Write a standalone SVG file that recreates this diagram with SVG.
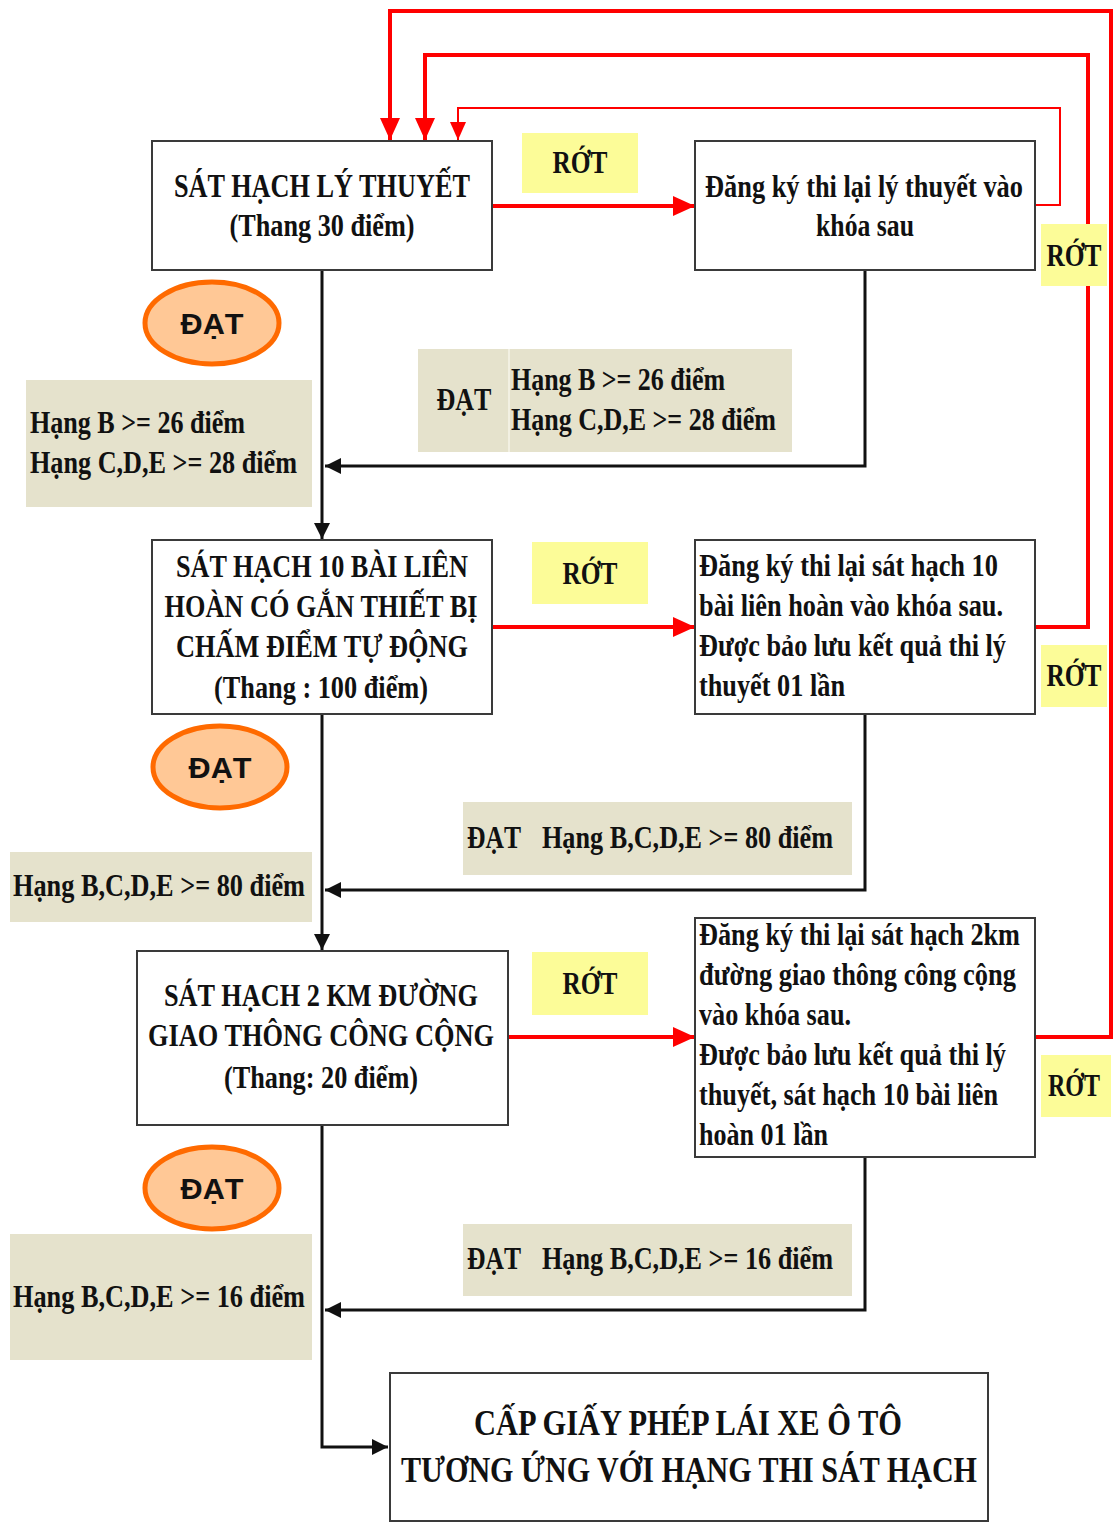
<svg xmlns="http://www.w3.org/2000/svg" width="1113" height="1522" viewBox="0 0 1113 1522">
<style>
.box{fill:#fff;stroke:#3a3a3a;stroke-width:2}
.tan{fill:#E5E2CC}
.yel{fill:#FCFC98}
.ell{fill:#FFC896;stroke:#FF6A00;stroke-width:5}
.t{font-family:"Liberation Serif","Times New Roman",serif;font-weight:bold;fill:#111}
.c{text-anchor:middle}
.s{font-family:"Liberation Sans",Arial,sans-serif;font-weight:bold;fill:#111;text-anchor:middle}
.blk{stroke:#111;stroke-width:3;fill:none}
.red{stroke:#FF0000;stroke-width:4;fill:none}
.redt{stroke:#FF0000;stroke-width:2;fill:none}
</style>
<defs>
<marker id="ab" markerUnits="userSpaceOnUse" markerWidth="18" markerHeight="16" refX="16" refY="8" orient="auto"><path d="M0,0 L16,8 L0,16 z" fill="#111"/></marker>
<marker id="ar" markerUnits="userSpaceOnUse" markerWidth="24" markerHeight="20" refX="22" refY="10" orient="auto"><path d="M0,0 L22,10 L0,20 z" fill="#FF0000"/></marker>
<marker id="ars" markerUnits="userSpaceOnUse" markerWidth="20" markerHeight="16" refX="18" refY="8" orient="auto"><path d="M0,0 L18,8 L0,16 z" fill="#FF0000"/></marker>
</defs>

<g id="connectors">
<polyline class="red" points="1111,1037 1111,11 390,11 390,140" marker-end="url(#ar)"/>
<polyline class="red" points="1035,627 1088,627 1088,55 425,55 425,140" marker-end="url(#ar)"/>
<polyline class="redt" points="1035,205 1060,205 1060,108 458,108 458,140" marker-end="url(#ars)"/>
<line class="red" x1="1035" y1="1037" x2="1113" y2="1037"/>
<line class="red" x1="492" y1="206" x2="695" y2="206" marker-end="url(#ar)"/>
<line class="red" x1="492" y1="627" x2="695" y2="627" marker-end="url(#ar)"/>
<line class="red" x1="508" y1="1037" x2="695" y2="1037" marker-end="url(#ar)"/>
<line class="blk" x1="322" y1="270" x2="322" y2="539" marker-end="url(#ab)"/>
<line class="blk" x1="322" y1="714" x2="322" y2="950" marker-end="url(#ab)"/>
<polyline class="blk" points="322,1125 322,1447 388,1447" marker-end="url(#ab)"/>
<polyline class="blk" points="865,270 865,466 325,466" marker-end="url(#ab)"/>
<polyline class="blk" points="865,714 865,890 325,890" marker-end="url(#ab)"/>
<polyline class="blk" points="865,1157 865,1310 325,1310" marker-end="url(#ab)"/>
</g>

<g id="theory">
<rect class="box" x="152" y="141" width="340" height="129"/>
<text class="t c" x="322" y="197" font-size="34" textLength="296" lengthAdjust="spacingAndGlyphs">SÁT HẠCH LÝ THUYẾT</text>
<text class="t c" x="322" y="236" font-size="31" textLength="185" lengthAdjust="spacingAndGlyphs">(Thang 30 điểm)</text>
</g>
<g id="rot1">
<rect class="yel" x="522" y="133" width="116" height="60"/>
<text class="t c" x="580" y="173" font-size="31" textLength="55" lengthAdjust="spacingAndGlyphs">RỚT</text>
</g>
<g id="retake-theory">
<rect class="box" x="695" y="141" width="340" height="129"/>
<text class="t c" x="864" y="197" font-size="31" textLength="318" lengthAdjust="spacingAndGlyphs">Đăng ký thi lại lý thuyết vào</text>
<text class="t c" x="865" y="236" font-size="31" textLength="98" lengthAdjust="spacingAndGlyphs">khóa sau</text>
</g>
<g id="rot1r">
<rect class="yel" x="1041" y="224" width="66" height="62"/>
<text class="t c" x="1074" y="266" font-size="31" textLength="55" lengthAdjust="spacingAndGlyphs">RỚT</text>
</g>
<g id="dat1">
<ellipse class="ell" cx="212" cy="323" rx="67" ry="41"/>
<text class="s" x="212" y="334" font-size="30" textLength="63" lengthAdjust="spacingAndGlyphs">ĐẠT</text>
</g>
<g id="cond1-left">
<rect class="tan" x="26" y="380" width="286" height="127"/>
<text class="t" x="30" y="433" font-size="31" textLength="215" lengthAdjust="spacingAndGlyphs">Hạng B &gt;= 26 điểm</text>
<text class="t" x="30" y="473" font-size="31" textLength="267" lengthAdjust="spacingAndGlyphs">Hạng C,D,E &gt;= 28 điểm</text>
</g>
<g id="cond1-right">
<rect class="tan" x="418" y="349" width="374" height="103"/>
<line x1="509" y1="349" x2="509" y2="452" stroke="#F2F0E2" stroke-width="2"/>
<text class="t c" x="464" y="410" font-size="31" textLength="55" lengthAdjust="spacingAndGlyphs">ĐẠT</text>
<text class="t" x="511" y="390" font-size="31" textLength="214" lengthAdjust="spacingAndGlyphs">Hạng B &gt;= 26 điểm</text>
<text class="t" x="511" y="430" font-size="31" textLength="265" lengthAdjust="spacingAndGlyphs">Hạng C,D,E &gt;= 28 điểm</text>
</g>

<g id="course10">
<rect class="box" x="152" y="540" width="340" height="174"/>
<text class="t c" x="322" y="577" font-size="31" textLength="292" lengthAdjust="spacingAndGlyphs">SÁT HẠCH 10 BÀI LIÊN</text>
<text class="t c" x="321" y="617" font-size="31" textLength="313" lengthAdjust="spacingAndGlyphs">HOÀN CÓ GẮN THIẾT BỊ</text>
<text class="t c" x="322" y="657" font-size="31" textLength="292" lengthAdjust="spacingAndGlyphs">CHẤM ĐIỂM TỰ ĐỘNG</text>
<text class="t c" x="321" y="698" font-size="31" textLength="214" lengthAdjust="spacingAndGlyphs">(Thang : 100 điểm)</text>
</g>
<g id="rot2">
<rect class="yel" x="532" y="542" width="116" height="62"/>
<text class="t c" x="590" y="584" font-size="31" textLength="55" lengthAdjust="spacingAndGlyphs">RỚT</text>
</g>
<g id="retake-course10">
<rect class="box" x="695" y="540" width="340" height="174"/>
<text class="t" x="699" y="576" font-size="31" textLength="299" lengthAdjust="spacingAndGlyphs">Đăng ký thi lại sát hạch 10</text>
<text class="t" x="699" y="616" font-size="31" textLength="304" lengthAdjust="spacingAndGlyphs">bài liên hoàn vào khóa sau.</text>
<text class="t" x="699" y="656" font-size="31" textLength="307" lengthAdjust="spacingAndGlyphs">Được bảo lưu kết quả thi lý</text>
<text class="t" x="699" y="696" font-size="31" textLength="146" lengthAdjust="spacingAndGlyphs">thuyết 01 lần</text>
</g>
<g id="rot2r">
<rect class="yel" x="1041" y="645" width="66" height="62"/>
<text class="t c" x="1074" y="686" font-size="31" textLength="55" lengthAdjust="spacingAndGlyphs">RỚT</text>
</g>
<g id="dat2">
<ellipse class="ell" cx="220" cy="767" rx="67" ry="41"/>
<text class="s" x="220" y="778" font-size="30" textLength="63" lengthAdjust="spacingAndGlyphs">ĐẠT</text>
</g>
<g id="cond2-right">
<rect class="tan" x="463" y="802" width="389" height="73"/>
<text class="t" x="467" y="848" font-size="31" textLength="54" lengthAdjust="spacingAndGlyphs">ĐẠT</text>
<text class="t" x="542" y="848" font-size="31" textLength="291" lengthAdjust="spacingAndGlyphs">Hạng B,C,D,E &gt;= 80 điểm</text>
</g>
<g id="cond2-left">
<rect class="tan" x="10" y="852" width="302" height="70"/>
<text class="t" x="13" y="896" font-size="31" textLength="292" lengthAdjust="spacingAndGlyphs">Hạng B,C,D,E &gt;= 80 điểm</text>
</g>

<g id="road2km">
<rect class="box" x="137" y="951" width="371" height="174"/>
<text class="t c" x="321" y="1006" font-size="31" textLength="314" lengthAdjust="spacingAndGlyphs">SÁT HẠCH 2 KM ĐƯỜNG</text>
<text class="t c" x="321" y="1046" font-size="31" textLength="346" lengthAdjust="spacingAndGlyphs">GIAO THÔNG CÔNG CỘNG</text>
<text class="t c" x="321" y="1088" font-size="31" textLength="194" lengthAdjust="spacingAndGlyphs">(Thang: 20 điểm)</text>
</g>
<g id="rot3">
<rect class="yel" x="532" y="952" width="116" height="63"/>
<text class="t c" x="590" y="994" font-size="31" textLength="55" lengthAdjust="spacingAndGlyphs">RỚT</text>
</g>
<g id="retake-road">
<rect class="box" x="695" y="918" width="340" height="239"/>
<text class="t" x="699" y="945" font-size="31" textLength="321" lengthAdjust="spacingAndGlyphs">Đăng ký thi lại sát hạch 2km</text>
<text class="t" x="699" y="985" font-size="31" textLength="317" lengthAdjust="spacingAndGlyphs">đường giao thông công cộng</text>
<text class="t" x="699" y="1025" font-size="31" textLength="152" lengthAdjust="spacingAndGlyphs">vào khóa sau.</text>
<text class="t" x="699" y="1065" font-size="31" textLength="307" lengthAdjust="spacingAndGlyphs">Được bảo lưu kết quả thi lý</text>
<text class="t" x="699" y="1105" font-size="31" textLength="299" lengthAdjust="spacingAndGlyphs">thuyết, sát hạch 10 bài liên</text>
<text class="t" x="699" y="1145" font-size="31" textLength="129" lengthAdjust="spacingAndGlyphs">hoàn 01 lần</text>
</g>
<g id="rot3r">
<rect class="yel" x="1041" y="1055" width="70" height="62"/>
<text class="t c" x="1074" y="1096" font-size="31" textLength="52" lengthAdjust="spacingAndGlyphs">RỚT</text>
</g>
<g id="dat3">
<ellipse class="ell" cx="212" cy="1188" rx="67" ry="41"/>
<text class="s" x="212" y="1199" font-size="30" textLength="63" lengthAdjust="spacingAndGlyphs">ĐẠT</text>
</g>
<g id="cond3-right">
<rect class="tan" x="463" y="1224" width="389" height="72"/>
<text class="t" x="467" y="1269" font-size="31" textLength="54" lengthAdjust="spacingAndGlyphs">ĐẠT</text>
<text class="t" x="542" y="1269" font-size="31" textLength="291" lengthAdjust="spacingAndGlyphs">Hạng B,C,D,E &gt;= 16 điểm</text>
</g>
<g id="cond3-left">
<rect class="tan" x="10" y="1234" width="302" height="126"/>
<text class="t" x="13" y="1307" font-size="31" textLength="292" lengthAdjust="spacingAndGlyphs">Hạng B,C,D,E &gt;= 16 điểm</text>
</g>

<g id="license">
<rect class="box" x="390" y="1373" width="598" height="148"/>
<text class="t c" x="688" y="1435" font-size="36" textLength="428" lengthAdjust="spacingAndGlyphs">CẤP GIẤY PHÉP LÁI XE Ô TÔ</text>
<text class="t c" x="689" y="1482" font-size="36" textLength="576" lengthAdjust="spacingAndGlyphs">TƯƠNG ỨNG VỚI HẠNG THI SÁT HẠCH</text>
</g>
</svg>
